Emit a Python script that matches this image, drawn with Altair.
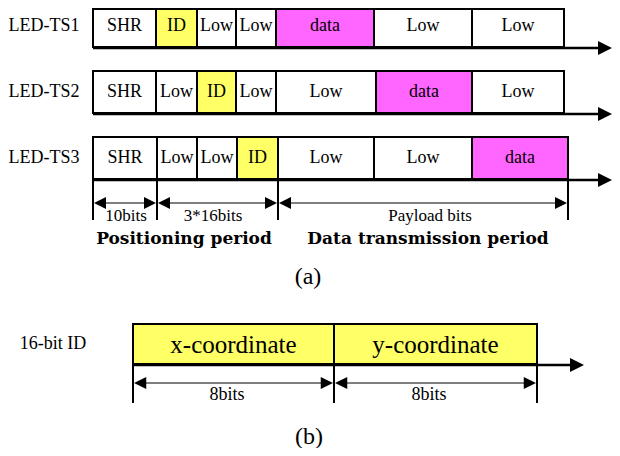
import altair as alt
import pandas as pd

# ---------------- data (diagram geometry in picture pixels) ----------------
row_names = ["LED-TS1", "LED-TS2", "LED-TS3"]
row_top = [9, 71, 137]
row_bottom = [47, 113, 179]
row_text_y = [26, 92, 158]
row_edges = [
    [93, 156, 197, 236, 276, 374, 472, 564],
    [93, 156, 197, 236, 276, 376, 472, 564],
    [93, 157, 197, 237, 278, 374, 472, 568],
]
row_fields = [
    ["SHR", "ID", "Low", "Low", "data", "Low", "Low"],
    ["SHR", "Low", "ID", "Low", "Low", "data", "Low"],
    ["SHR", "Low", "Low", "ID", "Low", "Low", "data"],
]
field_fill = {"SHR": "#FFFFFF", "Low": "#FFFFFF", "ID": "#FFFF66", "data": "#FF66FF"}

# dimension markers under part (a)
dim_a_ticks = [93, 157, 278, 568]
dim_a_labels = ["10bits", "3*16bits", "Payload bits"]
dim_a_label_x = [126, 213, 430]
period_labels = ["Positioning period", "Data transmission period"]
period_x = [184, 428]

# part (b)
id_label = "16-bit ID"
id_fields = ["x-coordinate", "y-coordinate"]
id_edges = [133, 334, 537]
id_top, id_bottom = 324, 364
id_dim_labels = ["8bits", "8bits"]
id_dim_label_x = [227, 429]

# ---------------- build tables ----------------
cells, texts, bold, hlines, vlines, heads = [], [], [], [], [], []
RIGHT = "M0,0L-2,-1L-2,1Z"
LEFT = "M0,0L2,-1L2,1Z"

for r, name in enumerate(row_names):
    e = row_edges[r]
    yc = row_text_y[r]
    texts.append(dict(x=44, y=yc, t=name, s=18))
    for i, f in enumerate(row_fields[r]):
        cells.append(dict(x=e[i], x2=e[i + 1], y=row_top[r], y2=row_bottom[r], fill=field_fill[f]))
        texts.append(dict(x=(e[i] + e[i + 1]) / 2, y=yc, t=f, s=18))
    hlines.append(dict(x=93, x2=600, y=row_bottom[r] + 1, w=2.5))
    heads.append(dict(x=612, y=row_bottom[r] + 1, shape=RIGHT, size=196))

# dimension lines part (a)
for xv in dim_a_ticks:
    vlines.append(dict(x=xv, y=180, y2=220, w=2))
dim_y = 203
for i in range(len(dim_a_ticks) - 1):
    a, b = dim_a_ticks[i], dim_a_ticks[i + 1]
    hlines.append(dict(x=a + 4, x2=b - 4, y=dim_y, w=1))
    heads.append(dict(x=a + 1, y=dim_y, shape=LEFT, size=144))
    heads.append(dict(x=b - 1, y=dim_y, shape=RIGHT, size=144))
    texts.append(dict(x=dim_a_label_x[i], y=216, t=dim_a_labels[i], s=17))
for i, p in enumerate(period_labels):
    bold.append(dict(x=period_x[i], y=239, t=p, s=17))
texts.append(dict(x=308, y=277, t="(a)", s=24))

# part (b)
texts.append(dict(x=53, y=344, t=id_label, s=18))
for i, f in enumerate(id_fields):
    cells.append(dict(x=id_edges[i], x2=id_edges[i + 1], y=id_top, y2=id_bottom, fill="#FFFF66"))
    texts.append(dict(x=(id_edges[i] + id_edges[i + 1]) / 2, y=345, t=f, s=25))
hlines.append(dict(x=133, x2=572, y=id_bottom + 1, w=2.5))
heads.append(dict(x=584, y=id_bottom + 1, shape=RIGHT, size=196))
for xv in id_edges:
    vlines.append(dict(x=xv, y=id_bottom, y2=403, w=2))
for i in range(len(id_edges) - 1):
    a, b = id_edges[i], id_edges[i + 1]
    hlines.append(dict(x=a + 4, x2=b - 4, y=383, w=1))
    heads.append(dict(x=a + 1, y=383, shape=LEFT, size=150))
    heads.append(dict(x=b - 1, y=383, shape=RIGHT, size=150))
    texts.append(dict(x=id_dim_label_x[i], y=395, t=id_dim_labels[i], s=18))
texts.append(dict(x=309, y=437, t="(b)", s=24))

W, H = 604, 440
xs = alt.Scale(domain=[8, 8 + W], nice=False, zero=False)
ys = alt.Scale(domain=[8, 8 + H], nice=False, zero=False, reverse=True)
X = lambda f="x": alt.X(f"{f}:Q", scale=xs, axis=None)
Y = lambda f="y": alt.Y(f"{f}:Q", scale=ys, axis=None)

rects = alt.Chart(pd.DataFrame(cells)).mark_rect(stroke="black", strokeWidth=2).encode(
    x=X(), x2="x2:Q", y=Y(), y2="y2:Q", fill=alt.Fill("fill:N", scale=None)
)
hl = alt.Chart(pd.DataFrame(hlines)).mark_rule(color="black").encode(
    x=X(), x2="x2:Q", y=Y(), strokeWidth=alt.StrokeWidth("w:Q", scale=None)
)
vl = alt.Chart(pd.DataFrame(vlines)).mark_rule(color="black").encode(
    x=X(), y=Y(), y2="y2:Q", strokeWidth=alt.StrokeWidth("w:Q", scale=None)
)
hd = alt.Chart(pd.DataFrame(heads)).mark_point(filled=True, color="black", opacity=1, strokeWidth=0).encode(
    x=X(), y=Y(), shape=alt.Shape("shape:N", scale=None), size=alt.Size("size:Q", scale=None)
)
tx = alt.Chart(pd.DataFrame(texts)).mark_text(
    font="Liberation Serif", baseline="middle", align="center", color="black"
).encode(x=X(), y=Y(), text="t:N", size=alt.Size("s:Q", scale=None))
bd = alt.Chart(pd.DataFrame(bold)).mark_text(
    font="DejaVu Serif", fontWeight="bold", baseline="middle", align="center", color="black"
).encode(x=X(), y=Y(), text="t:N", size=alt.Size("s:Q", scale=None))

chart = alt.layer(rects, hl, vl, hd, tx, bd).properties(
    width=W, height=H, padding=0, autosize=alt.AutoSizeParams(type="none"), background="white"
).configure_view(stroke=None)

chart.save("out.html", embed_options={"renderer": "svg", "actions": False})
